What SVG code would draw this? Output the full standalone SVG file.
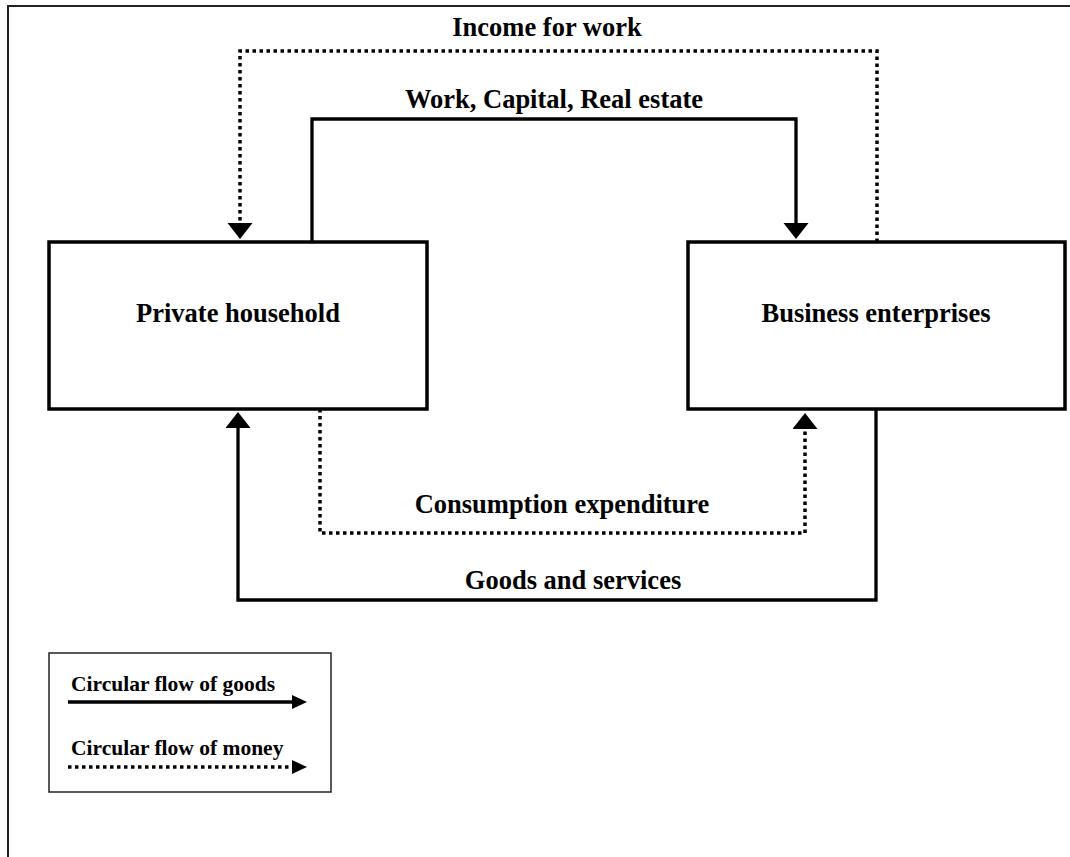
<svg xmlns="http://www.w3.org/2000/svg" width="1070" height="857" viewBox="0 0 1070 857">
<defs>
<style>
.frame{fill:none;stroke:#222;stroke-width:2}
.box{fill:#fff;stroke:#000;stroke-width:3.5}
.lbl{font-family:"Liberation Serif","Times New Roman",serif;font-weight:bold;font-size:26.5px;fill:#000;text-anchor:middle}
.leg{font-family:"Liberation Serif","Times New Roman",serif;font-weight:bold;font-size:21.5px;fill:#000}
.solid{fill:none;stroke:#000;stroke-width:3.3}
.dot{fill:none;stroke:#000;stroke-width:3.5;stroke-dasharray:3.5 3.5}
.legbox{fill:#fff;stroke:#222;stroke-width:1.5}
</style>
<marker id="ah" markerUnits="userSpaceOnUse" markerWidth="26" markerHeight="26" refX="2" refY="12.5" orient="auto">
<path d="M0,0 L16,12.5 L0,25 z" fill="#000"/>
</marker>
<marker id="ahs" markerUnits="userSpaceOnUse" markerWidth="16" markerHeight="15" refX="2" refY="7" orient="auto">
<path d="M0,0 L15,7 L0,14 z" fill="#000"/>
</marker>
</defs>
<rect x="0" y="0" width="1070" height="857" fill="#fff"/>
<rect class="frame" x="8" y="6" width="1100" height="900"/>
<g id="connectors">
<path class="dot" d="M877,242 V51 H240 V225" marker-end="url(#ah)"/>
<path class="solid" d="M312,242 V119 H796 V225" marker-end="url(#ah)"/>
<path class="dot" d="M320,409 V533 H805 V427" marker-end="url(#ah)"/>
<path class="solid" d="M876,409 V600 H238 V426" marker-end="url(#ah)"/>
<text class="lbl" x="547" y="36">Income for work</text>
<text class="lbl" x="554" y="108">Work, Capital, Real estate</text>
<text class="lbl" x="562" y="513">Consumption expenditure</text>
<text class="lbl" x="573" y="589">Goods and services</text>
</g>
<g id="private-household">
<rect class="box" x="49" y="242" width="378" height="167"/>
<text class="lbl" x="238" y="322">Private household</text>
</g>
<g id="business-enterprises">
<rect class="box" x="688" y="242" width="377" height="167"/>
<text class="lbl" x="876" y="322">Business enterprises</text>
</g>
<g id="legend">
<rect class="legbox" x="49" y="653" width="282" height="139"/>
<text class="leg" x="71" y="691">Circular flow of goods</text>
<path class="solid" d="M68,702 H294" marker-end="url(#ahs)"/>
<text class="leg" x="71" y="755">Circular flow of money</text>
<path class="dot" d="M68,767 H294" marker-end="url(#ahs)"/>
</g>
</svg>
